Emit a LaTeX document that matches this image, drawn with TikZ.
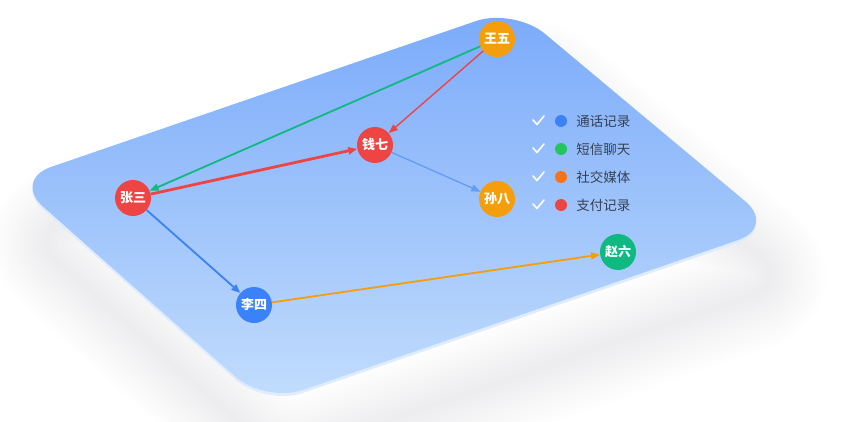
\documentclass[tikz,border=0pt]{standalone}
\usepackage{fontspec}
\setmainfont{Noto Sans CJK SC}
\usetikzlibrary{arrows.meta, positioning}
\definecolor{cardtop}{RGB}{122,170,250}
\definecolor{cardbottom}{RGB}{194,221,253}
\definecolor{cardrim}{RGB}{222,236,254}
\definecolor{shadowgray}{RGB}{90,90,110}
\definecolor{nodeorange}{RGB}{245,158,11}
\definecolor{nodered}{RGB}{239,68,68}
\definecolor{nodeblue}{RGB}{59,130,246}
\definecolor{nodegreen}{RGB}{16,185,129}
\definecolor{dotgreen}{RGB}{34,197,94}
\definecolor{dotorange}{RGB}{249,115,22}
\definecolor{legendtext}{RGB}{55,65,81}
\tikzset{
  person/.style={
    circle,
    minimum size=36pt,
    inner sep=0pt,
    text=white,
    font=\bfseries\fontsize{13}{13}\selectfont
  },
  link/.style={
    -{Triangle[length=9pt,width=7pt]},
    line width=1.8pt
  },
  tick/.style={
    minimum size=16pt,
    inner sep=0pt,
    path picture={
      \draw[white, line width=1.6pt, line cap=round, line join=round]
        ([shift={(-5pt,1pt)}]path picture bounding box.center)
        -- ++(4pt,-4.5pt) -- ++(7pt,8.5pt);
    }
  },
  dot/.style={
    circle,
    minimum size=12pt,
    inner sep=0pt
  },
  legend/.style={
    anchor=west,
    inner sep=0pt,
    text=legendtext,
    font=\fontsize{13.5}{13.5}\selectfont
  }
}

\begin{document}
\begin{tikzpicture}[x=1pt, y=-1pt]
  \useasboundingbox (0,0) rectangle (858,422);
  \coordinate (cL) at (13,180);
  \coordinate (cT) at (514,8);
  \coordinate (cR) at (776,227);
  \coordinate (cB) at (265,403);

  % soft shadow under the card
  \foreach \w in {4,8,...,112}
    \draw[shadowgray, draw opacity=0.0055, line width=\w pt, line join=round,
          rounded corners=40pt]
      ([shift={(14,55)}]cL) -- ([shift={(14,55)}]cT) -- ([shift={(14,55)}]cR)
      -- ([shift={(14,55)}]cB) -- cycle;

  % card
  \fill[cardrim, rounded corners=40pt]
    ([shift={(0,3)}]cL) -- ([shift={(0,3)}]cT) -- ([shift={(0,3)}]cR)
    -- ([shift={(0,3)}]cB) -- cycle;
  \shade[top color=cardtop, bottom color=cardbottom, rounded corners=40pt]
    (cL) -- (cT) -- (cR) -- (cB) -- cycle;

  % people
  \node[person, fill=nodeorange] (wang) at (497,39) {王五};
  \node[person, fill=nodered] (qian) at (375,145) {钱七};
  \node[person, fill=nodered] (zhang) at (133,198) {张三};
  \node[person, fill=nodeorange] (sun) at (497,199) {孙八};
  \node[person, fill=nodeblue] (li) at (254,305) {李四};
  \node[person, fill=nodegreen] (zhao) at (618,252) {赵六};

  \path (wang) edge[link, draw=nodegreen] (zhang)
        (wang) edge[link, draw=nodered, line width=1.4pt] (qian)
        (zhang) edge[link, draw=nodered, line width=2.8pt] (qian)
        (qian) edge[link, draw=nodeblue!80!white, line width=1.3pt] (sun)
        (zhang) edge[link, draw=nodeblue] (li)
        (li) edge[link, draw=nodeorange] (zhao);

  % legend
  \node[tick] (k1) at (538,121) {};
  \node[tick] (k2) at (538,149) {};
  \node[tick] (k3) at (538,177) {};
  \node[tick] (k4) at (538,205) {};
  \node[dot, fill=nodeblue] (d1) at (561,121) {};
  \node[dot, fill=dotgreen] (d2) at (561,149) {};
  \node[dot, fill=dotorange] (d3) at (561,177) {};
  \node[dot, fill=nodered] (d4) at (561,205) {};
  \node[legend, right=9pt of d1] (t1) {通话记录};
  \node[legend, right=9pt of d2] (t2) {短信聊天};
  \node[legend, right=9pt of d3] (t3) {社交媒体};
  \node[legend, right=9pt of d4] (t4) {支付记录};
\end{tikzpicture}
\end{document}
